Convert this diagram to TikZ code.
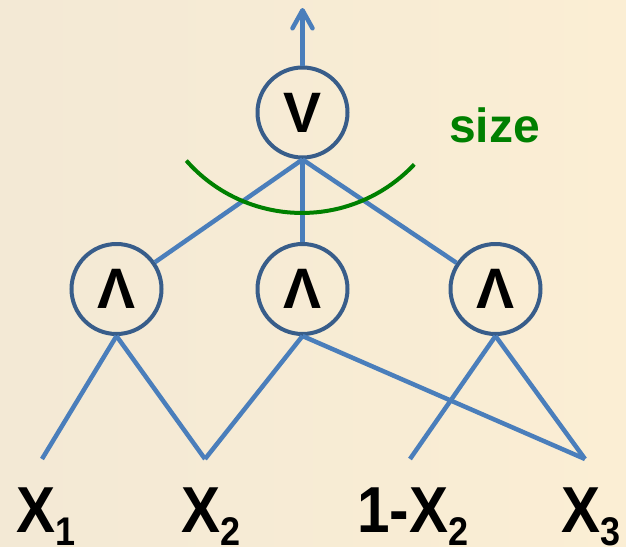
\documentclass[tikz,border=0pt]{standalone}
\usepackage{fontspec}
\setmainfont{Liberation Sans}
\newfontfamily\lblfont[FakeStretch=0.9]{Liberation Sans Bold}
\usetikzlibrary{arrows.meta}
\definecolor{bgL}{RGB}{243,233,213}
\definecolor{bgR}{RGB}{251,238,212}
\definecolor{edgeblue}{RGB}{74,126,187}
\definecolor{ringblue}{RGB}{56,93,138}
\definecolor{arcgreen}{RGB}{0,128,0}
\begin{document}
\begin{tikzpicture}[x=1pt,y=-1pt,
  gate/.style={circle,draw=ringblue,line width=4pt,minimum size=90pt,inner sep=0pt,
    font=\fontsize{57}{57}\selectfont\bfseries},
  wire/.style={draw=edgeblue,line width=4.5pt},
  lbl/.style={anchor=base west,inner sep=0pt,font=\lblfont\fontsize{65}{65}\selectfont}]
\useasboundingbox (0,0) rectangle (626,546);
\fill[left color=bgL,right color=bgR] (0,0) rectangle (626,546);

% coordinates of input wire ends
\coordinate (p1) at (42,459);
\coordinate (p2) at (205,459);
\coordinate (p3) at (410,459);
\coordinate (p4) at (585,459);
\coordinate (top) at (302.5,8);

% gates
\node[gate] (or) at (302.5,112.5) {V};
\node[gate] (aL) at (116.5,289) {Λ};
\node[gate] (aM) at (302.5,289) {Λ};
\node[gate] (aR) at (495.5,289) {Λ};

% wires
\draw[wire,-{Straight Barb[length=18pt,width=20pt,round]}] (or.north) -- (top);
\draw[wire] (or.south) -- (aL);
\draw[wire] (or.south) -- (aM.north);
\draw[wire] (or.south) -- (aR);
\draw[wire] (aL.south) -- (p1);
\draw[wire] (aL.south) -- (p2);
\draw[wire] (aM.south) -- (p2);
\draw[wire] (aM.south) -- (p4);
\draw[wire] (aR.south) -- (p3);
\draw[wire] (aR.south) -- (p4);

% size arc
\coordinate (arcstart) at (186.3,160.6);
\draw[arcgreen,line width=4pt] (arcstart) arc[start angle=138.7,end angle=43.2,radius=154];
\node[anchor=base west,inner sep=0pt,text=arcgreen,font=\fontsize{48}{48}\selectfont\bfseries] (size) at (449,142) {size};

% labels
\node[lbl] (x1) at (16,532) {X\raisebox{-13pt}{\fontsize{40}{40}\selectfont 1}};
\node[lbl] (x2) at (181,532) {X\raisebox{-13pt}{\fontsize{40}{40}\selectfont 2}};
\node[lbl] (nx2) at (357,532) {1-X\raisebox{-13pt}{\fontsize{40}{40}\selectfont 2}};
\node[lbl] (x3) at (561,532) {X\raisebox{-13pt}{\fontsize{40}{40}\selectfont 3}};
\end{tikzpicture}
\end{document}
